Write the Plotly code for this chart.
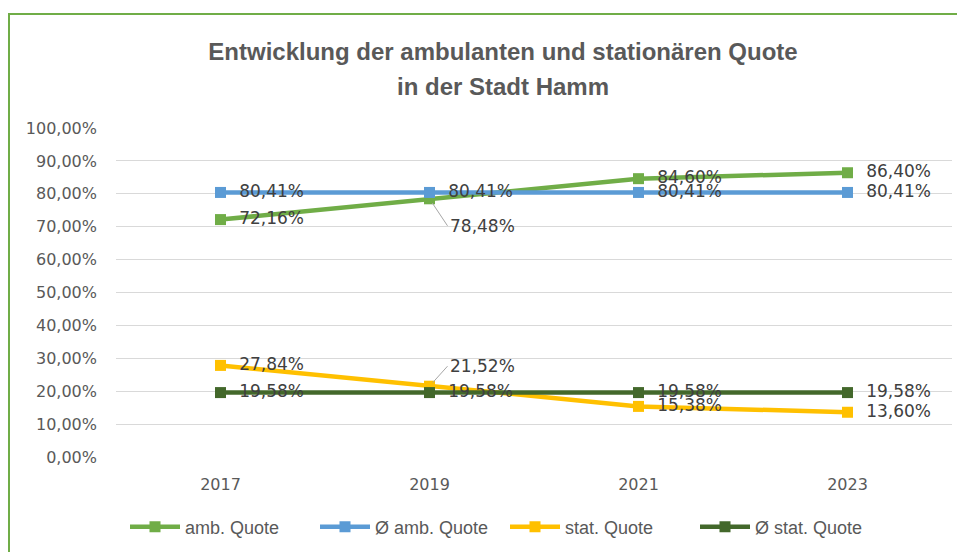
import plotly.graph_objects as go

years = ["2017", "2019", "2021", "2023"]
amb_quote = [72.16, 78.48, 84.60, 86.40]
avg_amb_quote = [80.41, 80.41, 80.41, 80.41]
stat_quote = [27.84, 21.52, 15.38, 13.60]
avg_stat_quote = [19.58, 19.58, 19.58, 19.58]
y_ticks = [0, 10, 20, 30, 40, 50, 60, 70, 80, 90, 100]
y_tick_labels = ["0,00%", "10,00%", "20,00%", "30,00%", "40,00%", "50,00%",
                 "60,00%", "70,00%", "80,00%", "90,00%", "100,00%"]

series = [
    ("amb. Quote", amb_quote, "#70AD47"),
    ("Ø amb. Quote", avg_amb_quote, "#5B9BD5"),
    ("stat. Quote", stat_quote, "#FFC000"),
    ("Ø stat. Quote", avg_stat_quote, "#43682B"),
]
# labels drawn with a leader line: (series name, point index) -> pixel offset
offset_labels = {("amb. Quote", 1): 27, ("stat. Quote", 1): -20}

def fmt(v):
    return f"{v:.2f}".replace(".", ",") + "%"

label_font = dict(family="DejaVu Sans", size=17, color="#404040")

fig = go.Figure()
annotations = []
for name, vals, col in series:
    texts = []
    for i, v in enumerate(vals):
        if (name, i) in offset_labels:
            texts.append("")
            annotations.append(dict(x=i, y=v, xref="x", yref="y", text=fmt(v),
                                    showarrow=True, arrowhead=0, arrowwidth=1,
                                    arrowcolor="#a6a6a6", ax=18, ay=offset_labels[(name, i)],
                                    xanchor="left", yanchor="middle", font=label_font,
                                    standoff=5))
        else:
            texts.append("  " + fmt(v))
    fig.add_trace(go.Scatter(
        x=years, y=vals, name=name, mode="lines+markers+text",
        text=texts, textposition="middle right", textfont=label_font,
        line=dict(color=col, width=4.5),
        marker=dict(symbol="square", size=11, color=col),
        cliponaxis=False,
    ))

title_font = dict(family="Liberation Sans, Arial, sans-serif", size=24, color="#595959")
annotations.append(dict(text="<b>in der Stadt Hamm</b>", xref="paper", yref="paper",
                        x=(495 - 108) / 836, y=(449 - 79) / 329, xanchor="center",
                        yanchor="middle", showarrow=False, font=title_font))

fig.update_layout(
    width=965, height=552,
    margin=dict(l=108, r=21, t=120, b=103),
    paper_bgcolor="white", plot_bgcolor="white",
    title=dict(text="<b>Entwicklung der ambulanten und stationären Quote</b>",
               x=495/965, xanchor="center", y=1-44/552, yanchor="middle",
               font=title_font),
    xaxis=dict(type="category", range=[-0.5, 3.5], showgrid=False, showline=False, ticks="",
               ticklabelstandoff=16,
               tickfont=dict(family="DejaVu Sans", size=16, color="#595959"), zeroline=False),
    yaxis=dict(range=[0, 100], tickvals=y_ticks, ticktext=y_tick_labels, showgrid=True,
               gridcolor="#d9d9d9", gridwidth=1, zeroline=False, showline=False, ticks="",
               ticklabelstandoff=18,
               tickfont=dict(family="DejaVu Sans", size=16, color="#595959")),
    legend=dict(orientation="h", x=(497-108)/836, xanchor="center", y=(449-519)/329,
                yanchor="middle", entrywidth=125, entrywidthmode="pixels",
                font=dict(family="Liberation Sans, Arial, sans-serif", size=18, color="#595959"),
                itemwidth=50, traceorder="normal"),
    annotations=annotations,
    showlegend=True,
)

fig.add_shape(type="rect", xref="paper", yref="paper",
              x0=(1-108)/836, x1=(990-108)/836, y0=(449-600)/329, y1=(449-6)/329,
              line=dict(color="#70AD47", width=2), fillcolor="rgba(0,0,0,0)", layer="below")

fig.write_html("out.html")
